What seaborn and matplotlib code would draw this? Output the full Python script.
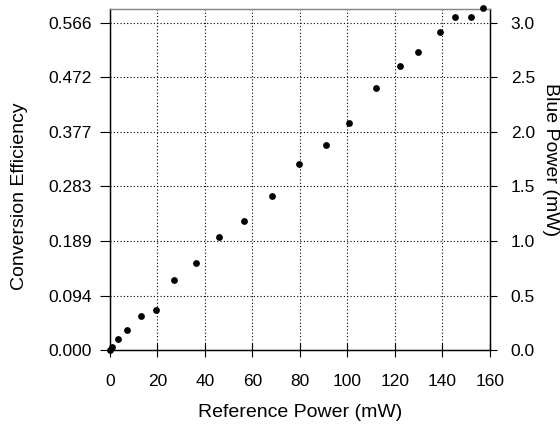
import matplotlib
matplotlib.use("Agg")
import matplotlib.pyplot as plt
import seaborn as sns
import pandas as pd
import numpy as np

reference_power = [0.0, 1.0, 3.5, 7.4, 13.0, 19.4, 27.2, 36.1, 45.8, 56.4, 68.1,
                   79.6, 90.9, 100.8, 112.1, 122.1, 129.7, 139.1, 145.3, 152.1, 156.9]
blue_power = [0.0, 0.03, 0.10, 0.18, 0.31, 0.37, 0.64, 0.80, 1.04, 1.18, 1.41,
              1.70, 1.88, 2.08, 2.40, 2.60, 2.73, 2.91, 3.05, 3.05, 3.13]
x_ticks = [0, 20, 40, 60, 80, 100, 120, 140, 160]
blue_ticks = [0.0, 0.5, 1.0, 1.5, 2.0, 2.5, 3.0]
eff_tick_labels = ["0.000", "0.094", "0.189", "0.283", "0.377", "0.472", "0.566"]
eff_per_blue = 0.566 / 3.0

sns.set_theme(style="white")
plt.rcParams['font.family'] = ['Liberation Sans', 'DejaVu Sans']

df = pd.DataFrame({"ref": reference_power, "blue": blue_power})

fig = plt.figure(figsize=(5.6, 4.28), dpi=100)
ax = fig.add_axes([0.196, 0.182, 0.679, 0.796])
ax2 = ax.twinx()

ymax = 3.12
ax.set_xlim(0, 160)
ax.set_ylim(0, ymax * eff_per_blue)
ax2.set_ylim(0, ymax)

sns.scatterplot(data=df, x="ref", y="blue", ax=ax2, color="black", s=24,
                edgecolor="black", linewidth=0, clip_on=False, zorder=5)

ax.set_xticks(x_ticks)
ax.set_xticklabels([str(t) for t in x_ticks])
ax.set_yticks([b * eff_per_blue for b in blue_ticks])
ax.set_yticklabels(eff_tick_labels)
ax2.set_yticks(blue_ticks)
ax2.set_yticklabels([f"{b:.1f}" for b in blue_ticks])

ax.grid(True, linestyle=(0, (1, 2)), color="black", linewidth=0.8)
for a in (ax, ax2):
    for s in a.spines.values():
        s.set_color("black")
        s.set_linewidth(0.9)
ax.spines["top"].set_color("#888888")
ax2.spines["top"].set_color("#888888")

ax.tick_params(axis="x", direction="inout", length=10, width=0.8, color="black",
               labelsize=12.5, labelcolor="black", bottom=True, pad=12)
ax.tick_params(axis="y", direction="out", length=7, width=0.8, color="black",
               labelsize=12.5, labelcolor="black", left=True, pad=6)
ax2.tick_params(axis="y", direction="out", length=5, width=0.8, color="black",
                labelsize=12.5, labelcolor="black", right=True, pad=10)

ax.set_xlabel("Reference Power (mW)", fontsize=14, color="black", va="center")
ax.xaxis.set_label_coords(0.5, -0.182)
ax.set_ylabel("Conversion Efficiency", fontsize=14, color="black", va="center")
ax.yaxis.set_label_coords(-0.237, 0.452)
ax2.set_ylabel("Blue Power (mW)", fontsize=14, rotation=270, va="center",
               color="black")
ax2.yaxis.set_label_coords(1.158, 0.558)
ax2.set_xlabel("")

fig.savefig("out.png", dpi=100)
